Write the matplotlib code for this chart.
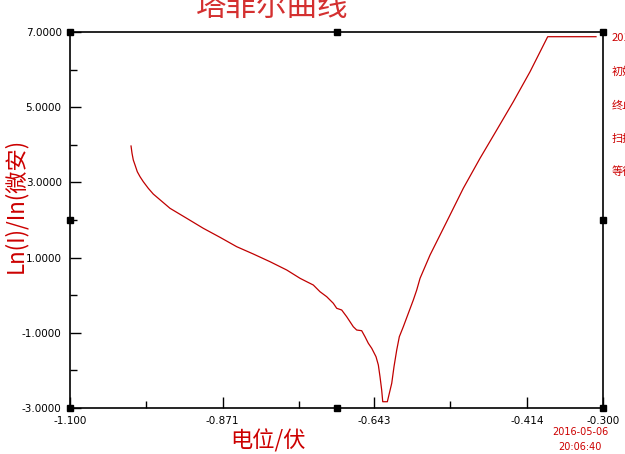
import matplotlib
matplotlib.use("Agg")
import matplotlib.pyplot as plt

# Potential (V) and Ln(I) values
potential = [-1.0084, -1.0069, -1.0050, -1.0024, -0.9990, -0.9949, -0.9900, -0.9825,
             -0.9750, -0.9499, -0.9248, -0.8999, -0.8749, -0.8498, -0.8249, -0.7998,
             -0.7747, -0.7547, -0.7447, -0.7348, -0.7248, -0.7147, -0.7048, -0.6997,
             -0.6922, -0.6847, -0.6748, -0.6697, -0.6622, -0.6572, -0.6522, -0.6471,
             -0.6407, -0.6372, -0.6347, -0.6322, -0.6306, -0.6237, -0.6207, -0.6171,
             -0.6137, -0.6096, -0.6057, -0.5997, -0.5922, -0.5847, -0.5796, -0.5746,
             -0.5596, -0.5346, -0.5097, -0.4846, -0.4595, -0.4346, -0.4095, -0.3830,
             -0.3105]
ln_current = [3.968, 3.773, 3.596, 3.463, 3.284, 3.152, 3.019, 2.843,
              2.690, 2.311, 2.045, 1.779, 1.540, 1.290, 1.096, 0.891,
              0.670, 0.449, 0.359, 0.271, 0.093, -0.040, -0.215, -0.348,
              -0.394, -0.572, -0.838, -0.926, -0.944, -1.104, -1.280, -1.413,
              -1.636, -1.856, -2.168, -2.521, -2.833, -2.833, -2.609, -2.343,
              -1.902, -1.457, -1.104, -0.838, -0.482, -0.128, 0.138, 0.449,
              1.069, 1.955, 2.843, 3.641, 4.394, 5.146, 5.944, 6.875,
              6.875]

x_ticks = [-1.100, -0.871, -0.643, -0.414, -0.300]
x_tick_labels = ["-1.100", "-0.871", "-0.643", "-0.414", "-0.300"]
x_minor = [-0.986, -0.757, -0.529]
y_ticks = [-3, -1, 1, 3, 5, 7]
y_tick_labels = ["-3.0000", "-1.0000", "1.0000", "3.0000", "5.0000", "7.0000"]
y_minor = [-2, 0, 2, 4, 6]

title = "塔菲尔曲线"
xlabel = "电位/伏"
ylabel = "Ln(I)/In(微安)"
side_texts = ["2016-05-06", "初始电位", "终止电位", "扫描速率", "等待时间"]
date_text = "2016-05-06"
time_text = "20:06:40"

plt.rcParams['font.family'] = ['Noto Sans CJK SC', 'DejaVu Sans']
RED = '#cc0000'

fig = plt.figure(figsize=(6.25, 4.54), dpi=100)
ax = fig.add_axes([70/625, 1-408/454, 533/625, 376/454])
ax.plot(potential, ln_current, color='#c00000', lw=0.9)
ax.set_xlim(-1.1, -0.3)
ax.set_ylim(-3, 7)

ax.set_xticks(x_ticks)
ax.set_xticklabels(x_tick_labels, family='DejaVu Sans', fontsize=7.5)
ax.set_xticks(x_minor, minor=True)
ax.set_yticks(y_ticks)
ax.set_yticklabels(y_tick_labels, family='DejaVu Sans', fontsize=7.5)
ax.set_yticks(y_minor, minor=True)
ax.tick_params(which='major', direction='in', length=8, width=1, colors='black')
ax.tick_params(axis='y', which='major', pad=6)
ax.tick_params(axis='x', which='major', pad=6)
ax.tick_params(which='minor', direction='in', length=5, width=1)
ax.tick_params(top=False, right=False)
for s in ax.spines.values():
    s.set_linewidth(1.2)
    s.set_color('black')

# handle squares
sq_x = [-1.1, -0.7, -0.3, -1.1, -0.3, -1.1, -0.7, -0.3]
sq_y = [7, 7, 7, 2, 2, -3, -3, -3]
ax.plot(sq_x, sq_y, 's', color='black', ms=4, clip_on=False, zorder=5)

fig.text(272/625, 1-7/454, title, color='#d43030', fontsize=22, ha='center', va='center',
         style='italic', fontweight='light')
fig.text(268/625, 1-441/454, xlabel, color=RED, fontsize=16, ha='center', va='center')
fig.text(15/625, 1-205/454, ylabel, color=RED, fontsize=16, ha='center', va='center',
         rotation=90)

side_y = [38, 72, 106, 139, 172]
for t, yy in zip(side_texts, side_y):
    fig.text(612/625, 1-yy/454, t, color=RED, fontsize=8, ha='left', va='center')

fig.text(580/625, 1-432/454, date_text, color=RED, fontsize=7, ha='center', va='center',
         family='DejaVu Sans')
fig.text(580/625, 1-447/454, time_text, color=RED, fontsize=7, ha='center', va='center',
         family='DejaVu Sans')

fig.savefig('out.png', dpi=100)
